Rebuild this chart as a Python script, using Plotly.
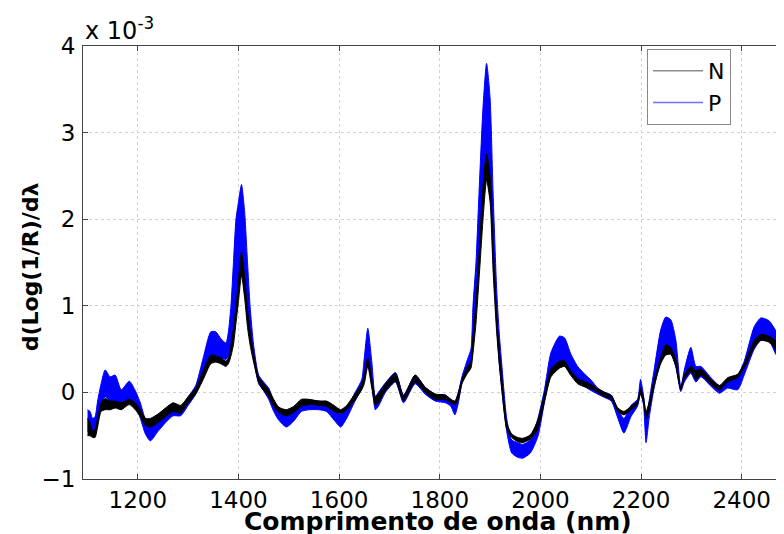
import plotly.graph_objects as go

# Wavelength (nm) and envelope of the spectra (values in units of 1e-3)
wl = [1100, 1105, 1110, 1115, 1120, 1127, 1135, 1145, 1155, 1167, 1183, 1195, 1205, 1215, 1225,
      1240, 1255, 1270, 1285, 1300, 1315, 1330, 1345, 1355, 1365, 1375, 1380, 1385, 1390, 1395,
      1400, 1406, 1412, 1418, 1423, 1430, 1440, 1450, 1460, 1470, 1480, 1495, 1510, 1525, 1540,
      1560, 1575, 1590, 1603, 1615, 1630, 1645, 1650, 1657, 1665, 1672, 1678, 1692, 1712, 1728,
      1751, 1771, 1791, 1811, 1822, 1830, 1837, 1844, 1855, 1862, 1866, 1872, 1878, 1886, 1893,
      1900, 1906, 1913, 1918, 1923, 1933, 1943, 1955, 1965, 1980, 1995, 2008, 2021, 2038, 2048,
      2060, 2074, 2090, 2101, 2114, 2128, 2141, 2154, 2166, 2180, 2193, 2199, 2205, 2210, 2216,
      2226, 2239, 2249, 2259, 2269, 2279, 2286, 2299, 2309, 2319, 2339, 2356, 2372, 2392, 2405,
      2425, 2438, 2454, 2467, 2478, 2490]

p_hi = [-0.20, -0.22, -0.30, -0.28, -0.10, 0.10, 0.26, 0.18, 0.20, 0.03, 0.13, 0.02, -0.12, -0.30, -0.33,
        -0.28, -0.22, -0.14, -0.17, -0.05, 0.08, 0.40, 0.70, 0.70, 0.62, 0.57, 0.70, 1.00, 1.50, 2.00,
        2.20, 2.40, 2.10, 1.50, 1.00, 0.55, 0.20, 0.12, 0.05, -0.10, -0.20, -0.25, -0.20, -0.10, -0.10,
        -0.10, -0.12, -0.20, -0.25, -0.18, -0.02, 0.15, 0.40, 0.74, 0.35, -0.05, 0.00, 0.11, 0.23, -0.03,
        0.20, 0.06, -0.02, -0.03, -0.08, -0.12, 0.00, 0.18, 0.38, 0.50, 1.00, 1.50, 2.30, 3.30, 3.80,
        3.40, 2.30, 1.20, 0.70, 0.34, -0.30, -0.55, -0.58, -0.60, -0.55, -0.30, 0.03, 0.46, 0.65, 0.63,
        0.45, 0.30, 0.20, 0.14, 0.05, 0.00, -0.03, -0.20, -0.30, -0.15, -0.08, 0.15, -0.04, -0.30, -0.10,
        0.26, 0.72, 0.87, 0.84, 0.61, 0.06, 0.26, 0.52, 0.30, 0.30, 0.17, 0.08, 0.13, 0.20, 0.36,
        0.76, 0.86, 0.83, 0.72, 0.60, 0.40]

p_lo = [-0.45, -0.42, -0.50, -0.50, -0.35, -0.15, -0.05, -0.10, -0.10, -0.14, -0.08, -0.15, -0.30, -0.48, -0.56,
        -0.45, -0.35, -0.27, -0.27, -0.15, -0.02, 0.20, 0.40, 0.42, 0.40, 0.38, 0.42, 0.55, 0.75, 1.00,
        1.30, 1.55, 1.30, 0.95, 0.70, 0.40, 0.10, 0.02, -0.08, -0.22, -0.32, -0.40, -0.33, -0.22, -0.20,
        -0.20, -0.22, -0.32, -0.40, -0.30, -0.12, 0.05, 0.15, 0.40, 0.10, -0.20, -0.16, 0.00, 0.12, -0.12,
        0.10, -0.02, -0.10, -0.12, -0.16, -0.26, -0.12, 0.10, 0.25, 0.35, 0.60, 1.00, 1.60, 2.40, 2.70,
        2.50, 1.60, 0.80, 0.35, 0.05, -0.45, -0.70, -0.75, -0.76, -0.70, -0.51, -0.12, 0.20, 0.33, 0.30,
        0.22, 0.13, 0.06, 0.02, -0.02, -0.06, -0.10, -0.30, -0.47, -0.28, -0.16, 0.00, -0.15, -0.58, -0.30,
        0.05, 0.35, 0.45, 0.45, 0.30, 0.01, 0.12, 0.22, 0.12, 0.18, 0.07, -0.01, 0.05, 0.03, 0.20,
        0.50, 0.60, 0.60, 0.45, 0.35, 0.20]

n_hi = [-0.30, -0.35, -0.45, -0.42, -0.30, -0.12, -0.07, -0.10, -0.10, -0.12, -0.08, -0.12, -0.20, -0.30, -0.30,
        -0.25, -0.18, -0.12, -0.15, -0.05, 0.05, 0.25, 0.43, 0.42, 0.40, 0.36, 0.40, 0.55, 0.75, 1.00,
        1.30, 1.62, 1.35, 0.95, 0.72, 0.45, 0.18, 0.10, 0.03, -0.08, -0.17, -0.20, -0.16, -0.08, -0.08,
        -0.10, -0.10, -0.15, -0.20, -0.15, -0.03, 0.10, 0.20, 0.40, 0.15, -0.05, -0.02, 0.10, 0.22, -0.04,
        0.20, 0.06, -0.02, -0.03, -0.08, -0.10, 0.00, 0.15, 0.30, 0.35, 0.65, 1.05, 1.60, 2.40, 2.76,
        2.50, 1.70, 0.90, 0.50, 0.20, -0.35, -0.48, -0.52, -0.53, -0.49, -0.32, -0.02, 0.27, 0.36, 0.36,
        0.25, 0.16, 0.12, 0.09, 0.04, 0.00, -0.04, -0.18, -0.22, -0.16, -0.10, 0.05, -0.06, -0.22, -0.12,
        0.15, 0.40, 0.55, 0.52, 0.38, 0.06, 0.20, 0.30, 0.25, 0.27, 0.15, 0.08, 0.17, 0.21, 0.33,
        0.60, 0.67, 0.65, 0.60, 0.50, 0.35]

n_lo = [-0.50, -0.50, -0.52, -0.52, -0.40, -0.22, -0.20, -0.20, -0.18, -0.20, -0.14, -0.20, -0.28, -0.38, -0.40,
        -0.35, -0.28, -0.22, -0.24, -0.12, -0.02, 0.15, 0.33, 0.35, 0.33, 0.30, 0.33, 0.42, 0.55, 0.80,
        1.05, 1.35, 1.10, 0.75, 0.55, 0.35, 0.12, 0.02, -0.05, -0.16, -0.23, -0.27, -0.23, -0.16, -0.14,
        -0.15, -0.16, -0.22, -0.24, -0.20, -0.10, 0.03, 0.10, 0.30, 0.05, -0.15, -0.12, 0.02, 0.13, -0.10,
        0.12, 0.00, -0.08, -0.08, -0.12, -0.14, -0.08, 0.10, 0.22, 0.28, 0.45, 0.80, 1.30, 2.00, 2.45,
        2.20, 1.40, 0.70, 0.35, 0.05, -0.42, -0.52, -0.57, -0.58, -0.54, -0.42, -0.10, 0.18, 0.28, 0.30,
        0.20, 0.10, 0.06, 0.04, 0.00, -0.05, -0.08, -0.22, -0.26, -0.20, -0.14, -0.02, -0.12, -0.30, -0.20,
        0.08, 0.33, 0.43, 0.44, 0.30, 0.03, 0.15, 0.24, 0.15, 0.20, 0.09, 0.03, 0.12, 0.17, 0.28,
        0.52, 0.60, 0.58, 0.50, 0.38, 0.25]

x_ticks = [1200, 1400, 1600, 1800, 2000, 2200, 2400]
y_ticks = [-1, 0, 1, 2, 3, 4]
series_names = ["N", "P"]

BLUE = "#0000ff"
BLACK = "#000000"
FONT = "DejaVu Sans"

fig = go.Figure()

def band(lo, hi, color):
    fig.add_trace(go.Scatter(x=wl, y=lo, mode="lines", showlegend=False, hoverinfo="skip",
                             line=dict(color=color, width=1, shape="spline", smoothing=0.6)))
    fig.add_trace(go.Scatter(x=wl, y=hi, mode="lines", showlegend=False, hoverinfo="skip",
                             fill="tonexty", fillcolor=color,
                             line=dict(color=color, width=1, shape="spline", smoothing=0.6)))

band(p_lo, p_hi, BLUE)
band(n_lo, n_hi, BLACK)

# legend entries
fig.add_trace(go.Scatter(x=[None], y=[None], mode="lines", name=series_names[0],
                         line=dict(color="#8c8c8c", width=1.5)))
fig.add_trace(go.Scatter(x=[None], y=[None], mode="lines", name=series_names[1],
                         line=dict(color="#7070ff", width=1.5)))

axis_common = dict(
    showgrid=True, gridcolor="#d2d2d2", griddash="dot", gridwidth=1,
    zeroline=False, showline=True, linecolor="#444444", linewidth=1,
    ticks="inside", ticklen=5, tickcolor="#444444",
    tickfont=dict(family=FONT, size=23, color="#000000"),
)

fig.update_xaxes(range=[1091, 2500], tickvals=x_ticks, mirror="ticks", **axis_common)
fig.update_yaxes(range=[-1, 4], tickvals=y_ticks, ticklabelstandoff=2, **axis_common)

fig.add_annotation(text="Comprimento de onda (nm)", xref="paper", yref="paper",
                   x=0.5, y=-0.097, xanchor="center", yanchor="middle",
                   showarrow=False, font=dict(family=FONT, size=25, color="#000000", weight="bold"))
fig.add_annotation(text="d(Log(1/R)/dλ", xref="paper", yref="paper",
                   x=-0.074, y=0.49, xanchor="center", yanchor="middle", textangle=-90,
                   showarrow=False, font=dict(family=FONT, size=22, color="#000000", weight="bold"))
fig.add_annotation(text="x 10<sup>-3</sup>", xref="paper", yref="paper",
                   x=0.0, y=1.0, xanchor="left", yanchor="bottom", yshift=-1,
                   showarrow=False, font=dict(family=FONT, size=24, color="#000000"))

# The page body adds an 8 px offset; margins compensate so the axes land where the reference has them.
fig.update_layout(
    width=784, height=534,
    margin=dict(l=75, r=0, t=38, b=63),
    paper_bgcolor="white", plot_bgcolor="white",
    legend=dict(x=0.7955, y=0.993, xanchor="left", yanchor="top", traceorder="normal",
                bordercolor="#888888", borderwidth=1, bgcolor="white",
                font=dict(family=FONT, size=22, color="#000000"),
                itemwidth=50, tracegroupgap=0),
    showlegend=True,
)

fig.write_html("out.html")
